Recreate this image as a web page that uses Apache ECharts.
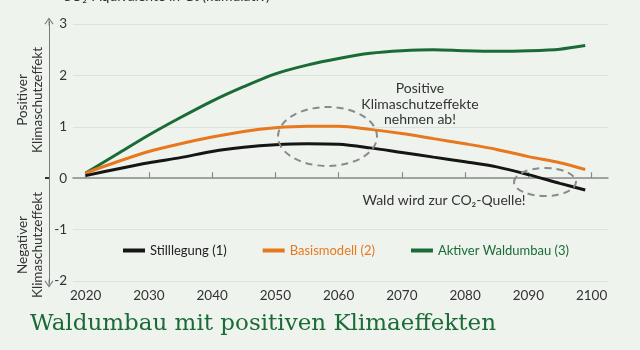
<!DOCTYPE html>
<html>
<head>
<meta charset="utf-8">
<script src="https://cdn.jsdelivr.net/npm/echarts@6/dist/echarts.min.js"></script>
<style>
html,body{margin:0;padding:0;background:#eef3ee;}
#c{width:640px;height:350px;}
</style>
</head>
<body>
<div id="c"></div>
<script>
// ---- data ----
var years = [2020, 2025, 2030, 2035, 2040, 2045, 2050, 2055, 2060, 2065, 2070, 2075, 2080, 2085, 2090, 2095, 2099];
var stilllegung = [0.05, 0.18, 0.30, 0.40, 0.52, 0.60, 0.65, 0.67, 0.66, 0.59, 0.50, 0.41, 0.32, 0.22, 0.07, -0.10, -0.23];
var basismodell = [0.10, 0.32, 0.52, 0.67, 0.80, 0.91, 0.98, 1.01, 1.01, 0.95, 0.87, 0.77, 0.67, 0.56, 0.42, 0.30, 0.17];
var waldumbau = [0.10, 0.47, 0.84, 1.18, 1.50, 1.78, 2.03, 2.20, 2.33, 2.43, 2.48, 2.50, 2.48, 2.47, 2.48, 2.51, 2.58];
var xTicks = [2020, 2030, 2040, 2050, 2060, 2070, 2080, 2090, 2100];
var seriesNames = ['Stilllegung (1)', 'Basismodell (2)', 'Aktiver Waldumbau (3)'];
var seriesColors = ['#151515', '#e8781e', '#1a6b36'];

function pairs(v) { return years.map(function (y, i) { return [y, v[i]]; }); }

var FONT = 'Lato';
var chart = echarts.init(document.getElementById('c'), null, {renderer: 'canvas'});
var arrowPath = 'path://M5,0 L10,7 L9,8 L5.5,2.5 L5.5,9 L4.5,9 L4.5,2.5 L1,8 L0,7 Z';

var option = {
  backgroundColor: '#eef3ee',
  animation: false,
  textStyle: {fontFamily: FONT},
  grid: [
    {left: 73, right: 32, top: 24, bottom: 69},
    {left: 49, width: 1, top: 21.5, height: 262}
  ],
  legend: {
    left: 118, top: 239,
    icon: 'rect', itemWidth: 22, itemHeight: 4, itemGap: 36,
    textStyle: {fontFamily: FONT, fontSize: 13},
    data: seriesNames.map(function (n, i) { return {name: n, textStyle: {color: i === 0 ? '#222' : seriesColors[i]}}; })
  },
  xAxis: [
    {
      type: 'value', gridIndex: 0, min: 2018, max: 2102.6,
      axisLine: {show: true, lineStyle: {color: '#8a8a8a', width: 1.5}},
      axisTick: {show: true, inside: true, length: 6, customValues: xTicks, lineStyle: {color: '#8a8a8a', width: 1.2}},
      axisLabel: {show: true, customValues: xTicks, margin: 8, fontSize: 13.5, color: '#333', fontFamily: FONT,
        formatter: function (v) { return String(v); }},
      splitLine: {show: false}
    },
    {type: 'value', gridIndex: 1, show: false, min: 0, max: 1}
  ],
  yAxis: [
    {
      type: 'value', gridIndex: 0, min: -2, max: 3, interval: 1,
      axisLine: {show: false}, axisTick: {show: false},
      axisLabel: {margin: 6, fontSize: 13.5, color: '#333', fontFamily: FONT},
      splitLine: {show: true, lineStyle: {color: '#dce3dc', width: 1}}
    },
    {
      type: 'value', gridIndex: 1, min: -2.06, max: 3.05,
      axisLine: {show: true, onZero: false, symbol: [arrowPath, arrowPath], symbolSize: [10, 8],
        lineStyle: {color: '#7a7a7a', width: 1}},
      axisTick: {show: true, inside: false, length: 4, customValues: [0], lineStyle: {color: '#333', width: 2}},
      axisLabel: {show: false},
      splitLine: {show: false}
    }
  ],
  series: [0, 1, 2].map(function (i) {
    return {
      name: seriesNames[i], type: 'line', xAxisIndex: 0, yAxisIndex: 0,
      data: pairs([stilllegung, basismodell, waldumbau][i]),
      smooth: 0.3, showSymbol: false, symbol: 'none',
      lineStyle: {color: seriesColors[i], width: 3},
      itemStyle: {color: seriesColors[i]},
      z: 3 + (2 - i)
    };
  }),
  graphic: [
    {type: 'text', left: 62, top: -11, style: {text: 'CO\u2082-\u00c4quivalente in Gt (kumulativ)', font: '14px ' + FONT, fill: '#333'}},
    {type: 'text', x: 30, y: 100, rotation: Math.PI / 2,
      style: {text: 'Positiver\nKlimaschutzeffekt', font: '13.5px ' + FONT, fill: '#333', textAlign: 'center', textVerticalAlign: 'middle', lineHeight: 15}},
    {type: 'text', x: 30, y: 245, rotation: Math.PI / 2,
      style: {text: 'Negativer\nKlimaschutzeffekt', font: '13.5px ' + FONT, fill: '#333', textAlign: 'center', textVerticalAlign: 'middle', lineHeight: 15}},
    {type: 'text', x: 420, y: 104,
      style: {text: 'Positive\nKlimaschutzeffekte\nnehmen ab!', font: '14px ' + FONT, fill: '#333', textAlign: 'center', textVerticalAlign: 'middle', lineHeight: 15.5}},
    {type: 'text', x: 444, y: 200,
      style: {text: 'Wald wird zur CO\u2082-Quelle!', font: '14px ' + FONT, fill: '#333', textAlign: 'center', textVerticalAlign: 'middle'}},
    {type: 'ellipse', shape: {cx: 327.5, cy: 136.5, rx: 49.5, ry: 29.5}, z: 10,
      style: {fill: 'none', stroke: '#8a8a8a', lineWidth: 2, lineDash: [7, 5]}},
    {type: 'ellipse', shape: {cx: 545, cy: 182, rx: 31, ry: 14}, z: 10,
      style: {fill: 'none', stroke: '#8a8a8a', lineWidth: 2, lineDash: [7, 5]}},
    {type: 'text', left: 30, top: 313,
      style: {text: 'Waldumbau mit positiven Klimaeffekten', font: '23px "DejaVu Serif"', fill: '#1a6b36'}}
  ]
};
chart.setOption(option);
</script>
</body>
</html>
